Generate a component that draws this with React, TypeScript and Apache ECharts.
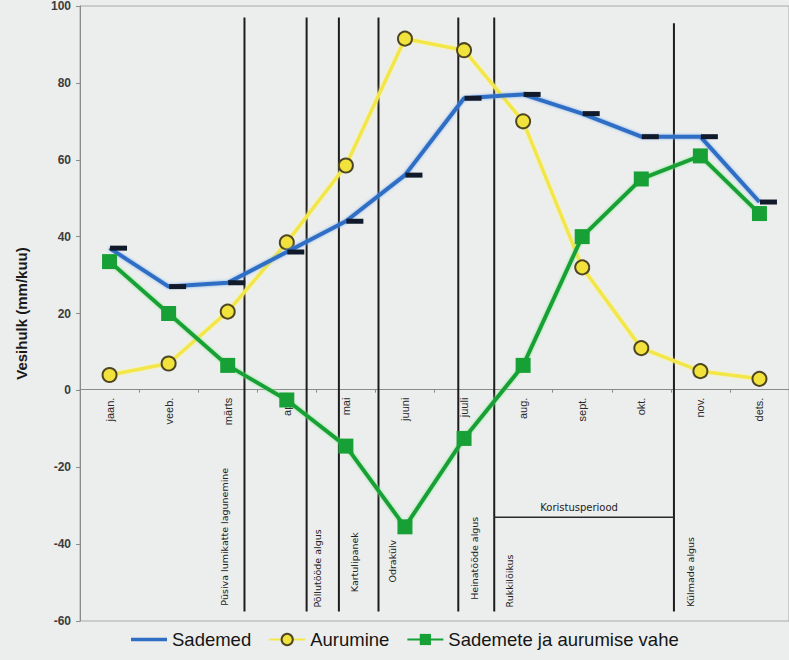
import { useEffect, useRef } from "react";
import * as echarts from "echarts";

// Monthly water balance (mm per month)
const months = ["jaan.", "veeb.", "märts", "apr.", "mai", "juuni", "juuli", "aug.", "sept.", "okt.", "nov.", "dets."];
const sademed = [37, 27, 28, 36, 44, 56, 76, 77, 72, 66, 66, 49];
const aurumine = [4, 7, 20.5, 38.5, 58.5, 91.5, 88.5, 70, 32, 11, 5, 3];
const vahe = [33.5, 20, 6.5, -2.5, -14.5, -35.5, -12.5, 6.5, 40, 55, 61, 46];

const seriesNames = ["Sademed", "Aurumine", "Sademete ja aurumise vahe"];
const yName = "Vesihulk (mm/kuu)";
const Y_MIN = -60;
const Y_MAX = 100;

// Farming calendar events, placed by fractional month index
const events = [
  "Püsiva lumikatte lagunemine",
  "Põllutööde algus",
  "Kartulipanek",
  "Odrakülv",
  "Heinatööde algus",
  "Rukkilõikus",
  "Külmade algus",
];
const eventMonth = [2.2, 3.22, 3.75, 4.4, 5.71, 6.3, 9.25];
const harvestLabel = "Koristusperiood";

const GRID_LEFT = 80;
const GRID_TOP = 4;
const GRID_WIDTH = 731;
const GRID_HEIGHT = 617;

const BLUE = "#2e6ec4";

export default function App() {
  const ref = useRef<HTMLDivElement>(null);

  useEffect(() => {
    if (!ref.current) return;
    const chart = echarts.init(ref.current, null, { renderer: "svg" });
    const font = "'Liberation Sans', Arial, sans-serif";
    // distance from the plot bottom up to the zero line, where the month axis sits
    const zeroLift = (GRID_HEIGHT * (0 - Y_MIN)) / (Y_MAX - Y_MIN);

    chart.setOption({
      animation: false,
      backgroundColor: "#eceeed",
      textStyle: { fontFamily: font },
      grid: {
        left: GRID_LEFT,
        top: GRID_TOP,
        width: GRID_WIDTH,
        height: GRID_HEIGHT,
        show: true,
        borderColor: "#a8aaaa",
        borderWidth: 1,
        backgroundColor: "transparent",
      },
      legend: {
        bottom: 6,
        left: 126,
        itemWidth: 36,
        itemHeight: 14,
        itemGap: 17,
        textStyle: { fontSize: 18.5, color: "#151515", fontFamily: font },
        data: [
          { name: seriesNames[0], icon: "path://M0,0h40v4h-40z", itemStyle: { color: BLUE } },
          { name: seriesNames[1] },
          { name: seriesNames[2] },
        ],
      },
      xAxis: {
        type: "category",
        data: months,
        boundaryGap: true,
        position: "bottom",
        offset: -zeroLift,
        axisLine: { onZero: false, lineStyle: { color: "#8a8c8c", width: 1 } },
        axisTick: { show: true, length: 3, lineStyle: { color: "#8a8c8c" } },
        axisLabel: { rotate: 90, fontSize: 11, color: "#2a2a2a", margin: 8, interval: 0 },
        splitLine: { show: false },
      },
      yAxis: {
        type: "value",
        min: Y_MIN,
        max: Y_MAX,
        interval: 20,
        name: yName,
        nameLocation: "middle",
        nameGap: 51,
        nameTextStyle: { fontSize: 15, fontWeight: "bold", color: "#1a1a1a" },
        axisLine: { show: true, onZero: false, lineStyle: { color: "#8a8c8c" } },
        axisTick: { show: true, length: 4, lineStyle: { color: "#8a8c8c" } },
        axisLabel: { fontSize: 12, fontWeight: "bold", color: "#3c3c3c", margin: 9 },
        splitLine: { show: false },
      },
      series: [
        {
          name: seriesNames[0],
          type: "line",
          data: sademed,
          z: 3,
          symbol: "rect",
          symbolSize: [17, 5],
          symbolOffset: [9, 0],
          itemStyle: { color: "#111a2a" },
          lineStyle: {
            color: BLUE,
            width: 4,
            shadowColor: "rgba(120,170,235,0.9)",
            shadowBlur: 3,
          },
        },
        {
          name: seriesNames[1],
          type: "line",
          data: aurumine,
          z: 2,
          symbol: "circle",
          symbolSize: 14,
          itemStyle: { color: "#f1e23c", borderColor: "#4e4622", borderWidth: 2 },
          lineStyle: {
            color: "#f3e64a",
            width: 3.5,
            shadowColor: "rgba(250,245,150,0.9)",
            shadowBlur: 3,
          },
        },
        {
          name: seriesNames[2],
          type: "line",
          data: vahe,
          z: 4,
          symbol: "rect",
          symbolSize: 15,
          itemStyle: { color: "#17a035" },
          lineStyle: {
            color: "#17a035",
            width: 4,
            shadowColor: "rgba(130,230,140,0.95)",
            shadowBlur: 3,
          },
        },
      ],
    });

    // Calendar annotation lines and texts
    const band = GRID_WIDTH / months.length;
    const px = (m: number) => GRID_LEFT + (m + 0.5) * band;
    const py = (v: number) => chart.convertToPixel({ yAxisIndex: 0 }, v) as number;
    const textOffset = [-20, 11, 16, 14, 16, 15, 17];
    const textBottom = [-56, -56.5, -52.5, -50, -54.5, -56.5, -56.3];
    const lineTop = py(97);
    const lineBottom = py(-57.5);
    const graphics: any[] = [];
    eventMonth.forEach((m, i) => {
      const x = px(m);
      graphics.push({
        type: "line",
        shape: { x1: x, y1: i === 6 ? py(95.5) : lineTop, x2: x, y2: lineBottom },
        style: { stroke: "#1c1c1c", lineWidth: 2 },
        z: 1,
      });
      graphics.push({
        type: "text",
        x: x + textOffset[i],
        y: py(textBottom[i]),
        rotation: Math.PI / 2,
        style: {
          text: events[i],
          fontSize: 9.5,
          fontFamily: "'DejaVu Sans', sans-serif",
          fill: "#222",
          textAlign: "left",
          textVerticalAlign: "middle",
        },
        z: 5,
      });
    });
    const hx1 = px(eventMonth[5]);
    const hx2 = px(eventMonth[6]);
    graphics.push({
      type: "line",
      shape: { x1: hx1, y1: py(-33), x2: hx2, y2: py(-33) },
      style: { stroke: "#2a2a2a", lineWidth: 1.5 },
      z: 1,
    });
    graphics.push({
      type: "text",
      x: (hx1 + hx2) / 2 - 5,
      y: py(-30.5),
      style: {
        text: harvestLabel,
        fontSize: 10,
        fontFamily: "'DejaVu Sans', sans-serif",
        fill: "#222",
        textAlign: "center",
        textVerticalAlign: "middle",
      },
      z: 5,
    });
    chart.setOption({ graphic: graphics });

    return () => chart.dispose();
  }, []);

  return (
    <div
      ref={ref}
      style={{ position: "fixed", left: 0, top: 0, width: 789, height: 660, overflow: "hidden" }}
    />
  );
}
